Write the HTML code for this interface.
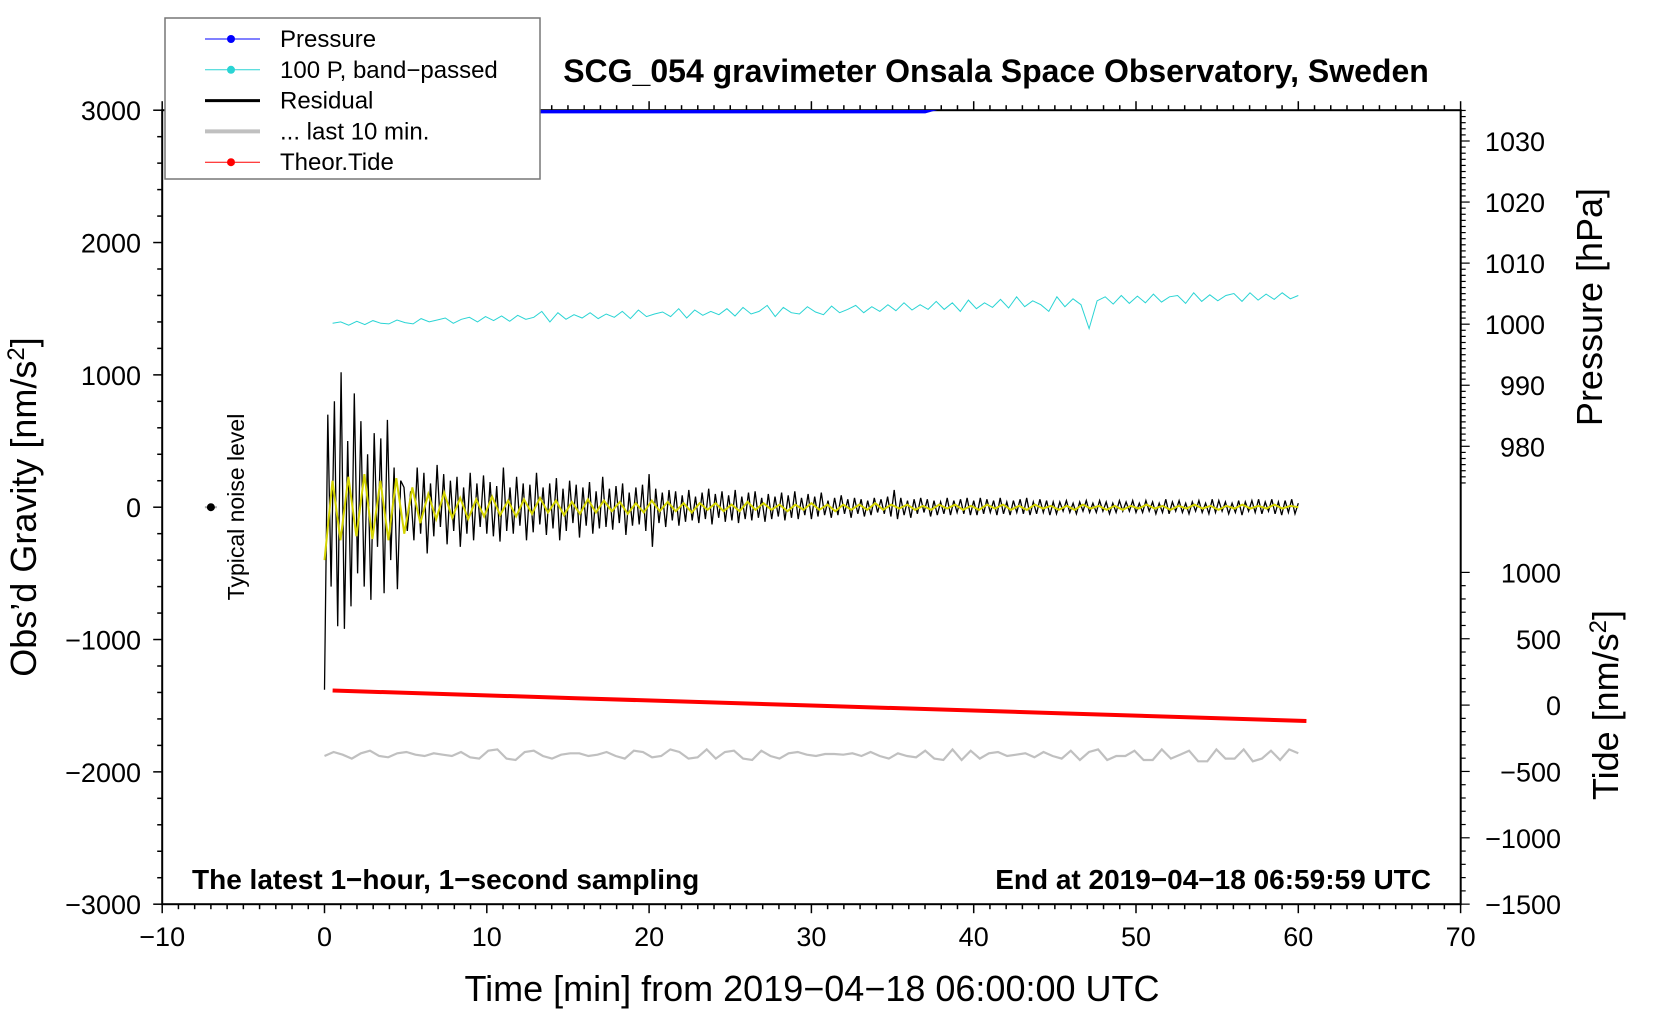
<!DOCTYPE html>
<html><head><meta charset="utf-8"><style>
html,body{margin:0;padding:0;background:#fff;}
svg{display:block;font-family:"Liberation Sans",sans-serif;}
</style></head><body>
<svg id="chart" width="1660" height="1020" viewBox="0 0 1660 1020" xmlns="http://www.w3.org/2000/svg">
<defs><clipPath id="plotclip"><rect x="162" y="110" width="1299" height="794"/></clipPath></defs>
<g id="axes"></g>
<g id="series" clip-path="url(#plotclip)"></g>
<g id="labels"></g>
</svg>
<script>
const residual=[-1380,700,-600,800,-900,1020,-920,500,-750,860,-500,650,-600,400,-700,560,-300,520,-650,660,-400,300,-620,200,
150,-180,120,-250,300,-200,260,-350,180,-220,320,-150,250,-280,200,-180,230,-300,150,-200,260,-250,180,-150,240,-200,
190,-220,160,-260,300,-180,150,-200,230,-140,180,-250,170,-190,260,-130,150,-210,180,-160,220,-250,140,-180,200,-120,170,-230,150,-140,190,-200,120,-160,230,-150,140,-170,160,-120,180,-210,110,-140,150,-130,170,-180,250,
-300,140,-120,110,-150,130,-100,120,-140,90,-110,130,-100,80,-120,110,-90,140,-130,100,-80,120,-110,90,-100,130,-120,80,-90,110,-100,120,-80,70,-110,100,-90,80,-70,110,-100,90,-80,120,-90,70,-60,100,-90,
80,-70,110,-60,50,-80,70,-60,90,-50,60,-80,70,-50,60,-70,50,-60,70,-40,60,-50,80,-70,130,-90,70,-60,50,-80,60,-50,70,-40,60,-70,50,-60,40,-50,70,-60,50,-40,60,-50,70,-60,50,
-60,70,-50,60,-40,50,-60,70,-50,40,-60,50,-40,60,-50,70,-60,40,-50,60,-40,50,-60,40,-50,40,-30,50,-40,30,-50,40,-30,50,-40,30,-40,50,-30,40,-50,30,-40,50,-30,40,-30,50,-40,
30,-40,50,-30,40,-50,30,-40,60,-50,40,-30,50,-40,30,-50,40,-30,50,-40,30,-50,60,-40,50,-30,40,-50,30,-40,50,-60,40,-30,50,-40,60,-50,40,-30,60,-50,40,-60,50,-40,60,-50,30];
const residualSpan=[0,60];
const filtered=[-400,200,-250,230,-220,250,-240,200,-250,220,-200,150,-120,100,-90,110,-80,70,-90,60,-70,80,-60,50,-70,60,-50,70,-40,50,-60,40,-50,60,-40,50,-30,40,-50,30,-40,50,-30,40,-30,30,-40,30,-20,30,-30,20,-30,40,-20,30,-20,20,-30,20,-20,30,-20,20,-30,20,-20,20,-20,30,-20,20,-10,20,-20,10,-20,20,-10,20,-20,10,-20,20,-10,20,-20,10,-20,20,-10,10,-20,10,-20,20,-10,10,-20,10,-20,10,-10,20,-10,10,-20,10,-10,20,-10,10,-20,10,-10,20,-10,10,-10,20,-10,10,0];
const filteredSpan=[0,60];
const pband=[1390,1400,1375,1405,1380,1410,1390,1385,1415,1395,1385,1425,1400,1415,1430,1390,1420,1435,1400,1440,1410,1445,1405,1450,1420,1435,1480,1400,1470,1420,1455,1430,1470,1425,1460,1435,1480,1425,1490,1440,1460,1475,1440,1500,1430,1490,1450,1480,1455,1500,1445,1510,1460,1480,1525,1440,1510,1470,1460,1515,1475,1455,1520,1470,1495,1525,1470,1515,1480,1530,1485,1545,1490,1530,1495,1555,1495,1545,1480,1565,1500,1545,1510,1570,1505,1590,1515,1560,1530,1480,1590,1515,1575,1530,1350,1560,1590,1535,1600,1540,1595,1545,1610,1550,1590,1600,1540,1620,1555,1605,1560,1600,1615,1555,1620,1565,1610,1570,1620,1575,1600];
const pbandSpan=[0.5,60];
const last10=[-1880,-1850,-1870,-1900,-1860,-1840,-1880,-1890,-1860,-1850,-1870,-1880,-1860,-1870,-1880,-1850,-1890,-1900,-1840,-1830,-1900,-1910,-1850,-1840,-1880,-1900,-1870,-1860,-1860,-1880,-1870,-1850,-1880,-1900,-1840,-1850,-1890,-1880,-1830,-1850,-1900,-1890,-1830,-1900,-1850,-1840,-1900,-1910,-1840,-1880,-1900,-1860,-1850,-1870,-1880,-1865,-1865,-1870,-1860,-1880,-1850,-1880,-1900,-1860,-1880,-1890,-1840,-1900,-1910,-1830,-1910,-1840,-1900,-1860,-1850,-1880,-1870,-1860,-1890,-1850,-1880,-1900,-1840,-1910,-1850,-1830,-1910,-1880,-1880,-1840,-1910,-1910,-1830,-1900,-1870,-1840,-1920,-1920,-1830,-1900,-1900,-1830,-1920,-1900,-1840,-1910,-1830,-1860];
const last10Span=[0,60];
const tideTime=[0.5,15.5,30.5,45.5,60.5];
const tideValues=[110,52,-5,-62,-120];
const pressureTime=[13,20,30,37,38,50,60];
const pressureValues=[1034.85,1034.85,1034.85,1034.85,1035.6,1035.6,1035.6];
const xTicks=[-10,0,10,20,30,40,50,60,70];
const yTicks=[-3000,-2000,-1000,0,1000,2000,3000];
const pTicks=[980,990,1000,1010,1020,1030];
const tideTicks=[-1500,-1000,-500,0,500,1000];

const NS="http://www.w3.org/2000/svg";
const X=t=>162.2+(t+10)*16.23;
const Y=v=>507.2-v*0.13233;
const YP=p=>141-(p-1030)*6.106;
const YT=v=>705.1-v*0.1327;
const axes=document.getElementById('axes'),series=document.getElementById('series'),labels=document.getElementById('labels');
function mk(tag,attrs,parent){const e=document.createElementNS(NS,tag);for(const k in attrs)e.setAttribute(k,attrs[k]);parent.appendChild(e);return e;}
function txt(s,attrs,parent){const e=mk('text',attrs,parent);e.textContent=s;return e;}
function spanPts(arr,span,yf){const n=arr.length;return arr.map((v,i)=>X(span[0]+(span[1]-span[0])*i/(n-1)).toFixed(1)+','+yf(v).toFixed(1)).join(' ');}

let e=mk('rect',{x:162.2,y:110.2,width:1298.5,height:794,fill:'none',stroke:'#000','stroke-width':2},axes);


for(let t=-10;t<=70;t++){const maj=t%10===0;const x=X(t);
 mk('line',{x1:x,x2:x,y1:904.2,y2:904.2+(maj?9:5),stroke:'#000','stroke-width':1.5},axes);
 mk('line',{x1:x,x2:x,y1:110.2,y2:110.2-(maj?9:5),stroke:'#000','stroke-width':1.5},axes);}
xTicks.forEach(t=>{const l=txt(String(t).replace('-','\u2212'),{x:X(t),y:946,'font-size':27,'text-anchor':'middle'},labels);
 
 });
for(let v=-3000;v<=3000;v+=200){const maj=v%1000===0;mk('line',{x1:162.2,x2:162.2-(maj?9:5),y1:Y(v),y2:Y(v),stroke:'#000','stroke-width':1.5},axes);}
yTicks.forEach(v=>{const l=txt(String(v).replace('-','\u2212'),{x:141,y:Y(v)+10,'font-size':27,'text-anchor':'end'},labels);
 
 });
for(let p=974;p<=1035;p++){const maj=p%10===0;mk('line',{x1:1460.7,x2:1460.7+(maj?9:5),y1:YP(p),y2:YP(p),stroke:'#000','stroke-width':1.2},axes);}
pTicks.forEach(p=>{const l=txt(String(p),{x:1545,y:YP(p)+10,'font-size':27,'text-anchor':'end'},labels);
 
 });
for(let v=-1500;v<=1000;v+=100){const maj=v%500===0;mk('line',{x1:1460.7,x2:1460.7+(maj?9:5),y1:YT(v),y2:YT(v),stroke:'#000','stroke-width':1.2},axes);}
tideTicks.forEach(v=>{const l=txt(String(v).replace('-','\u2212'),{x:1561,y:YT(v)+10,'font-size':27,'text-anchor':'end'},labels);
 
 });

e=mk('polyline',{points:spanPts(last10,last10Span,Y),fill:'none',stroke:'#c0c0c0','stroke-width':2.2},series);


e=mk('polyline',{points:spanPts(pband,pbandSpan,Y),fill:'none',stroke:'#2ad4d4','stroke-width':1},series);


e=mk('polyline',{points:spanPts(residual,residualSpan,Y),fill:'none',stroke:'#000','stroke-width':1.3},series);


e=mk('polyline',{points:spanPts(filtered,filteredSpan,Y),fill:'none',stroke:'#d4d400','stroke-width':2},series);


e=mk('polyline',{points:tideTime.map((t,i)=>X(t)+','+YT(tideValues[i])).join(' '),fill:'none',stroke:'#ff0000','stroke-width':4},series);


e=mk('polyline',{points:pressureTime.map((t,i)=>X(t)+','+YP(pressureValues[i])).join(' '),fill:'none',stroke:'#0000ff','stroke-width':4},series);


e=mk('line',{x1:X(-7)-6,x2:X(-7)+6,y1:Y(0),y2:Y(0),stroke:'#aaa','stroke-width':2},series);
e=mk('circle',{cx:X(-7),cy:Y(0),r:4,fill:'#000'},series);


</script>
<script>
(function(){
const NS="http://www.w3.org/2000/svg";
const svg=document.getElementById('chart');
function t(s,a,name,rot){const e=document.createElementNS(NS,'text');for(const k in a)e.setAttribute(k,a[k]);e.textContent=s;
 if(rot)e.setAttribute('transform',rot);svg.appendChild(e);
 
 return e;}
t('SCG_054 gravimeter Onsala Space Observatory, Sweden',{x:996,y:82,'font-size':32,'font-weight':'bold','text-anchor':'middle'},'chart-title');
t('Time [min] from 2019\u221204\u221218 06:00:00 UTC',{x:812,y:1001,'font-size':36,'text-anchor':'middle'},'x-axis-title');
const yt=t('',{x:0,y:0,'font-size':36,'text-anchor':'middle'},'y-axis-title','translate(36,507) rotate(-90)');
yt.innerHTML='Obs\u2019d Gravity [nm/s<tspan dy="-12" font-size="24">2</tspan><tspan dy="12">]</tspan>';
t('Pressure [hPa]',{x:0,y:0,'font-size':36,'text-anchor':'middle'},'pressure-axis-title','translate(1602,307) rotate(-90)');
const tt=t('',{x:0,y:0,'font-size':36,'text-anchor':'middle'},'tide-axis-title','translate(1618,705) rotate(-90)');
tt.innerHTML='Tide [nm/s<tspan dy="-12" font-size="24">2</tspan><tspan dy="12">]</tspan>';
t('Typical noise level',{x:0,y:0,'font-size':23,'text-anchor':'middle'},'noise-level-label','translate(244,507) rotate(-90)');
t('The latest 1\u2212hour, 1\u2212second sampling',{x:192,y:889,'font-size':28,'font-weight':'bold'},'sampling-note');
t('End at 2019\u221204\u221218 06:59:59 UTC',{x:1431,y:889,'font-size':28,'font-weight':'bold','text-anchor':'end'},'end-time-note');
const g=document.createElementNS(NS,'g');svg.appendChild(g);


const r=document.createElementNS(NS,'rect');
[['x',165],['y',18],['width',375],['height',161],['fill','#fff'],['stroke','#777'],['stroke-width',1.5]].forEach(([k,v])=>r.setAttribute(k,v));g.appendChild(r);
const items=[['Pressure','#0000ff',1,true],['100 P, band\u2212passed','#2ad4d4',1,true],['Residual','#000',3,false],['... last 10 min.','#c0c0c0',4,false],['Theor.Tide','#ff0000',1,true]];
items.forEach((it,i)=>{const y=39+i*30.8;
 const l=document.createElementNS(NS,'line');[['x1',205],['x2',260],['y1',y],['y2',y],['stroke',it[1]],['stroke-width',it[2]]].forEach(([k,v])=>l.setAttribute(k,v));g.appendChild(l);
 if(it[3]){const c=document.createElementNS(NS,'circle');[['cx',231],['cy',y],['r',4],['fill',it[1]]].forEach(([k,v])=>c.setAttribute(k,v));g.appendChild(c);}
 const tx=document.createElementNS(NS,'text');[['x',280],['y',y+8],['font-size',24]].forEach(([k,v])=>tx.setAttribute(k,v));tx.textContent=it[0];g.appendChild(tx);
 
 });
})();
</script>
</body></html>
